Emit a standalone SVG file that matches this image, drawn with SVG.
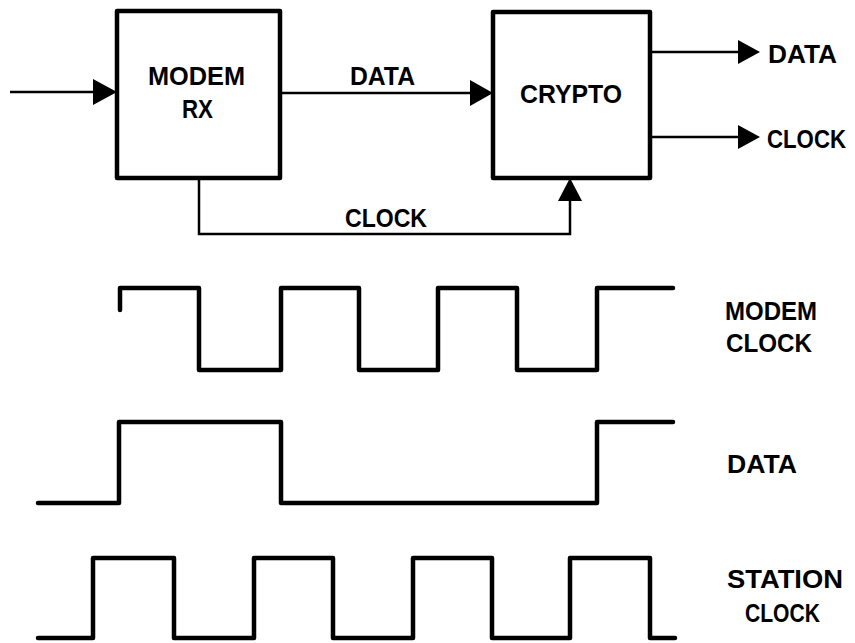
<svg xmlns="http://www.w3.org/2000/svg" width="855" height="643" viewBox="0 0 855 643">
<style>
.box{fill:#fff;stroke:#000;stroke-width:4.5;stroke-linejoin:round}
.wire{fill:none;stroke:#000;stroke-width:2.5}
.wave{fill:none;stroke:#000;stroke-width:4.5;stroke-linejoin:round;stroke-linecap:round}
.head{fill:#000}
text{font-family:"Liberation Sans",Arial,sans-serif;font-weight:bold;font-size:25px;fill:#000}
</style>
<rect width="855" height="643" fill="#fff"/>
<g id="modem-rx">
<rect class="box" x="117" y="11" width="163" height="167"/>
<text x="148" y="85" textLength="97" lengthAdjust="spacingAndGlyphs">MODEM</text>
<text x="182" y="118" textLength="31" lengthAdjust="spacingAndGlyphs">RX</text>
</g>
<g id="crypto">
<rect class="box" x="493" y="12" width="157" height="166"/>
<text x="520" y="103" textLength="102" lengthAdjust="spacingAndGlyphs">CRYPTO</text>
</g>
<g id="connectors">
<line class="wire" x1="10" y1="92" x2="95" y2="92"/>
<polygon class="head" points="93,79 117,92 93,105"/>
<line class="wire" x1="280" y1="93" x2="472" y2="93"/>
<polygon class="head" points="470,80 493,93 470,106"/>
<polyline class="wire" points="199,178 199,234 570,234 570,198"/>
<polygon class="head" points="558,201 570,178 582,201"/>
<line class="wire" x1="650" y1="52" x2="740" y2="52"/>
<polygon class="head" points="738,40 760,52 738,64"/>
<line class="wire" x1="650" y1="137" x2="740" y2="137"/>
<polygon class="head" points="738,125 760,137 738,149"/>
</g>
<g id="labels">
<text x="350" y="85" textLength="65" lengthAdjust="spacingAndGlyphs">DATA</text>
<text x="345" y="227" textLength="82" lengthAdjust="spacingAndGlyphs">CLOCK</text>
<text x="768" y="63" textLength="69" lengthAdjust="spacingAndGlyphs">DATA</text>
<text x="767" y="148" textLength="79" lengthAdjust="spacingAndGlyphs">CLOCK</text>
</g>
<g id="modem-clock">
<polyline class="wave" points="120,310 120,288 199,288 199,370 281,370 281,288 359,288 359,370 438,370 438,288 517,288 517,370 597,370 597,288 673,288"/>
<text x="725" y="320" textLength="92" lengthAdjust="spacingAndGlyphs">MODEM</text>
<text x="726" y="352" textLength="86" lengthAdjust="spacingAndGlyphs">CLOCK</text>
</g>
<g id="data-wave">
<polyline class="wave" points="38,503 119,503 119,422 281,422 281,503 597,503 597,422 673,422"/>
<text x="727" y="473" textLength="70" lengthAdjust="spacingAndGlyphs">DATA</text>
</g>
<g id="station-clock">
<polyline class="wave" points="38,638 93,638 93,558 174,558 174,638 254,638 254,558 333,558 333,638 413,638 413,558 492,558 492,638 570,638 570,558 650,558 650,638 675,638"/>
<text x="727" y="588" textLength="116" lengthAdjust="spacingAndGlyphs">STATION</text>
<text x="745" y="622" textLength="75" lengthAdjust="spacingAndGlyphs">CLOCK</text>
</g>
</svg>
